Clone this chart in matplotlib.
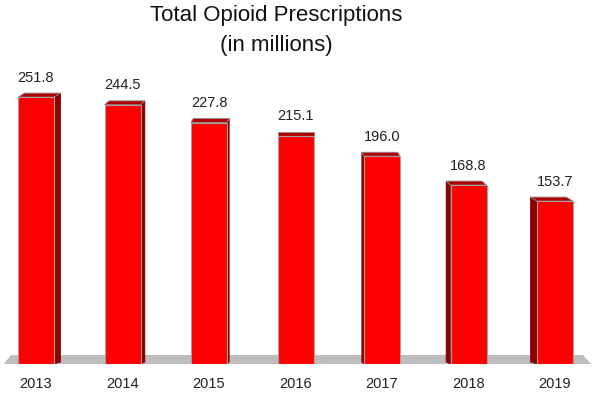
import matplotlib.pyplot as plt
from matplotlib.patches import Polygon
import numpy as np

years = ['2013', '2014', '2015', '2016', '2017', '2018', '2019']
values = [251.8, 244.5, 227.8, 215.1, 196.0, 168.8, 153.7]

plt.rcParams['font.family'] = ['Liberation Sans', 'DejaVu Sans']

fig = plt.figure(figsize=(5.97, 3.96), dpi=100)
ax = fig.add_axes([0, 32 / 396, 1, 318 / 396])

# pixel -> data helpers (bar spacing ~86.5 px, 1.06 px per unit)
px_x = 86.5
px_y = 1.06
ax.set_xlim(-36 / px_x, (597 - 36) / px_x)
ax.set_ylim(0, 318 / px_y)

# grey floor
floor = Polygon([(-33 / px_x, -1 / px_y), (-25 / px_x, 9 / px_y),
                 (547 / px_x, 9 / px_y), (556 / px_x, -1 / px_y)],
                closed=True, facecolor='#bdbdbd', edgecolor='none', zorder=1)
ax.add_patch(floor)

width = 36 / px_x
dy = 4 / px_y
x = np.arange(len(years))

for i, v in enumerate(values):
    dx = 2.2 * (3 - i) / px_x
    x0 = i - width / 2
    x1 = i + width / 2
    # side face
    if dx >= 0:
        side = [(x1, 0), (x1 + dx, 2 / px_y), (x1 + dx, v + dy), (x1, v)]
    else:
        side = [(x0, 0), (x0 + dx, 2 / px_y), (x0 + dx, v + dy), (x0, v)]
    ax.add_patch(Polygon(side, closed=True, facecolor='#8c0000',
                         edgecolor='#7a0000', linewidth=0.5, zorder=2))
    # top face
    top = [(x0, v), (x1, v), (x1 + dx, v + dy), (x0 + dx, v + dy)]
    ax.add_patch(Polygon(top, closed=True, facecolor='#b00000',
                         edgecolor='#909090', linewidth=0.6, zorder=3))

ax.bar(x, values, width=width, color='#ff0000', edgecolor='#a0a0a0',
       linewidth=0.8, zorder=4)

for i, v in enumerate(values):
    ax.annotate(f'{v:.1f}', (i, v), xytext=(0, 9), textcoords='offset points',
                ha='center', va='bottom', fontsize=10.5, color='#222222')

ax.set_xticks(x)
ax.set_xticklabels(years, fontsize=10.5, color='#222222')
ax.tick_params(axis='x', length=0, pad=9)
ax.set_yticks([])
for s in ax.spines.values():
    s.set_visible(False)

fig.text(276 / 597, 1 - 15 / 396, 'Total Opioid Prescriptions', ha='center',
         va='center', fontsize=16, color='#111111')
fig.text(276 / 597, 1 - 45 / 396, '(in millions)', ha='center',
         va='center', fontsize=16, color='#111111')

fig.savefig('out.png', dpi=100)
